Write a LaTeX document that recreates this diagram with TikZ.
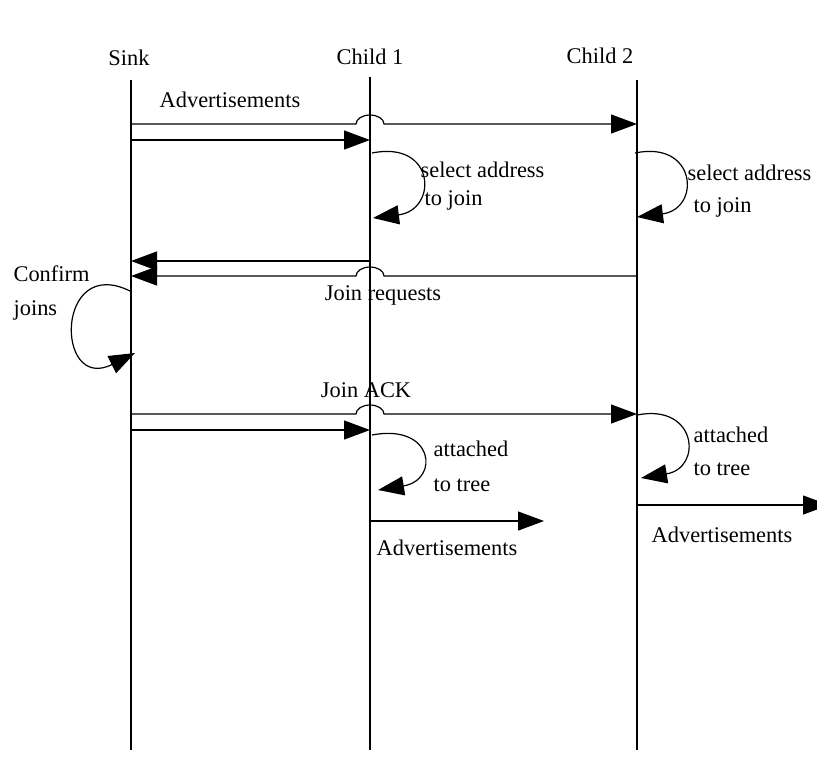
\documentclass[tikz,border=0pt]{standalone}
\usepackage{fontspec}
\setmainfont{Liberation Serif}
\usepackage{tikz}
\usetikzlibrary{arrows.meta}
\usetikzlibrary{positioning}

\begin{document}
\begin{tikzpicture}[
x=0.5pt, y=-0.5pt,
font=\fontsize{11.2}{14}\selectfont,
line width=0.6pt,
>={Triangle[length=13pt,width=9.5pt]},   % big filled heads
msg/.style={draw, ->},
msgtext/.style={inner sep=0pt},
note/.style={align=left, anchor=west, inner sep=0pt}
]

\def\ybot{750}
\def\jr{7pt}   % radius of the line jumps

\useasboundingbox (0,0) rectangle (817,767);
\clip (0,0) rectangle (817,767);

% Kopfzeile
\node[msgtext] (sink)   at (129,58) {Sink};
\node[msgtext] (childa) at (370,57) {Child 1};
\node[msgtext] (childb) at (600,56) {Child 2};

% Lebenslinien
\foreach \n/\x/\t in {s/131/80, a/370/77, b/637/80}{
  \coordinate (\n-top) at (\x,\t);
  \coordinate (\n-bot) at (\x,\ybot);
  \draw (\n-top) -- (\n-bot);
}

% Punkte auf den Lebenslinien
\foreach \r/\y in {adv/124, advb/140, req/261, reqb/276, ack/414, ackb/430}{
  \coordinate (s-\r) at (131,\y);
  \coordinate (a-\r) at (370,\y);
  \coordinate (b-\r) at (637,\y);
}

% Advertisements
\draw[msg] (s-adv) -- ([xshift=-\jr]a-adv) arc[start angle=180, end angle=0, x radius=\jr, y radius=4.5pt] -- (b-adv);
\draw[msg] (s-advb) -- (a-advb);
\node[msgtext] (advtxt) at (230,100) {Advertisements};

% select address
\coordinate (a-selin)  at (372,153);
\coordinate (a-selout) at (373,218);
\draw[msg] (a-selin) .. controls +(64,-13) and +(65,-8) .. (a-selout);
\node[note] (selecta) at (420,186) {select address\\\hspace*{2pt}to join};

\coordinate (b-selin)  at (635,153);
\coordinate (b-selout) at (637,217);
\draw[msg] (b-selin) .. controls +(62,-13) and +(64,-8) .. (b-selout);
\node[note] (selectb) at (687,191) {select address\\[2pt]\hspace*{3pt}to join};

% Join requests
\draw[msg] (a-req) -- (s-req);
\draw[msg] (b-reqb) -- ([xshift=\jr]a-reqb) arc[start angle=0, end angle=180, x radius=\jr, y radius=4.5pt] -- (s-reqb);
\node[msgtext] (reqtxt) at (383,295) {Join requests};

% Confirm joins
\coordinate (s-confin)  at (130,291);
\coordinate (s-confout) at (135,353);
\draw[msg] (s-confin) .. controls +(-75,-37) and +(-80,40) .. (s-confout);
\node[note] (confirm) at (13,293) {Confirm\\[3pt]joins};

% Join ACK
\draw[msg] (s-ack) -- ([xshift=-\jr]a-ack) arc[start angle=180, end angle=0, x radius=\jr, y radius=4.5pt] -- (b-ack);
\draw[msg] (s-ackb) -- (a-ackb);
\node[msgtext] (acktxt) at (366,390) {Join ACK};

% attached to tree
\coordinate (a-attin)  at (372,435);
\coordinate (a-attout) at (378,490);
\draw[msg] (a-attin) .. controls +(62,-12) and +(62,-10) .. (a-attout);
\node[note] (attacheda) at (433,466) {attached\\[3.5pt]to tree};

\coordinate (b-attin)  at (637,415);
\coordinate (b-attout) at (641,478);
\draw[msg] (b-attin) .. controls +(60,-12) and +(62,-10) .. (b-attout);
\node[note] (attachedb) at (693,451) {attached\\[2.5pt]to tree};

% weitere Advertisements
\coordinate (a-out) at (370,521);
\coordinate (a-end) at (544,521);
\draw[msg] (a-out) -- (a-end);
\node[msgtext] (advatxt) at (447,548) {Advertisements};

\coordinate (b-out) at (637,505);
\coordinate (b-end) at (829,505);
\draw[msg] (b-out) -- (b-end);
\node[msgtext] (advbtxt) at (722,535) {Advertisements};

\end{tikzpicture}
\end{document}
